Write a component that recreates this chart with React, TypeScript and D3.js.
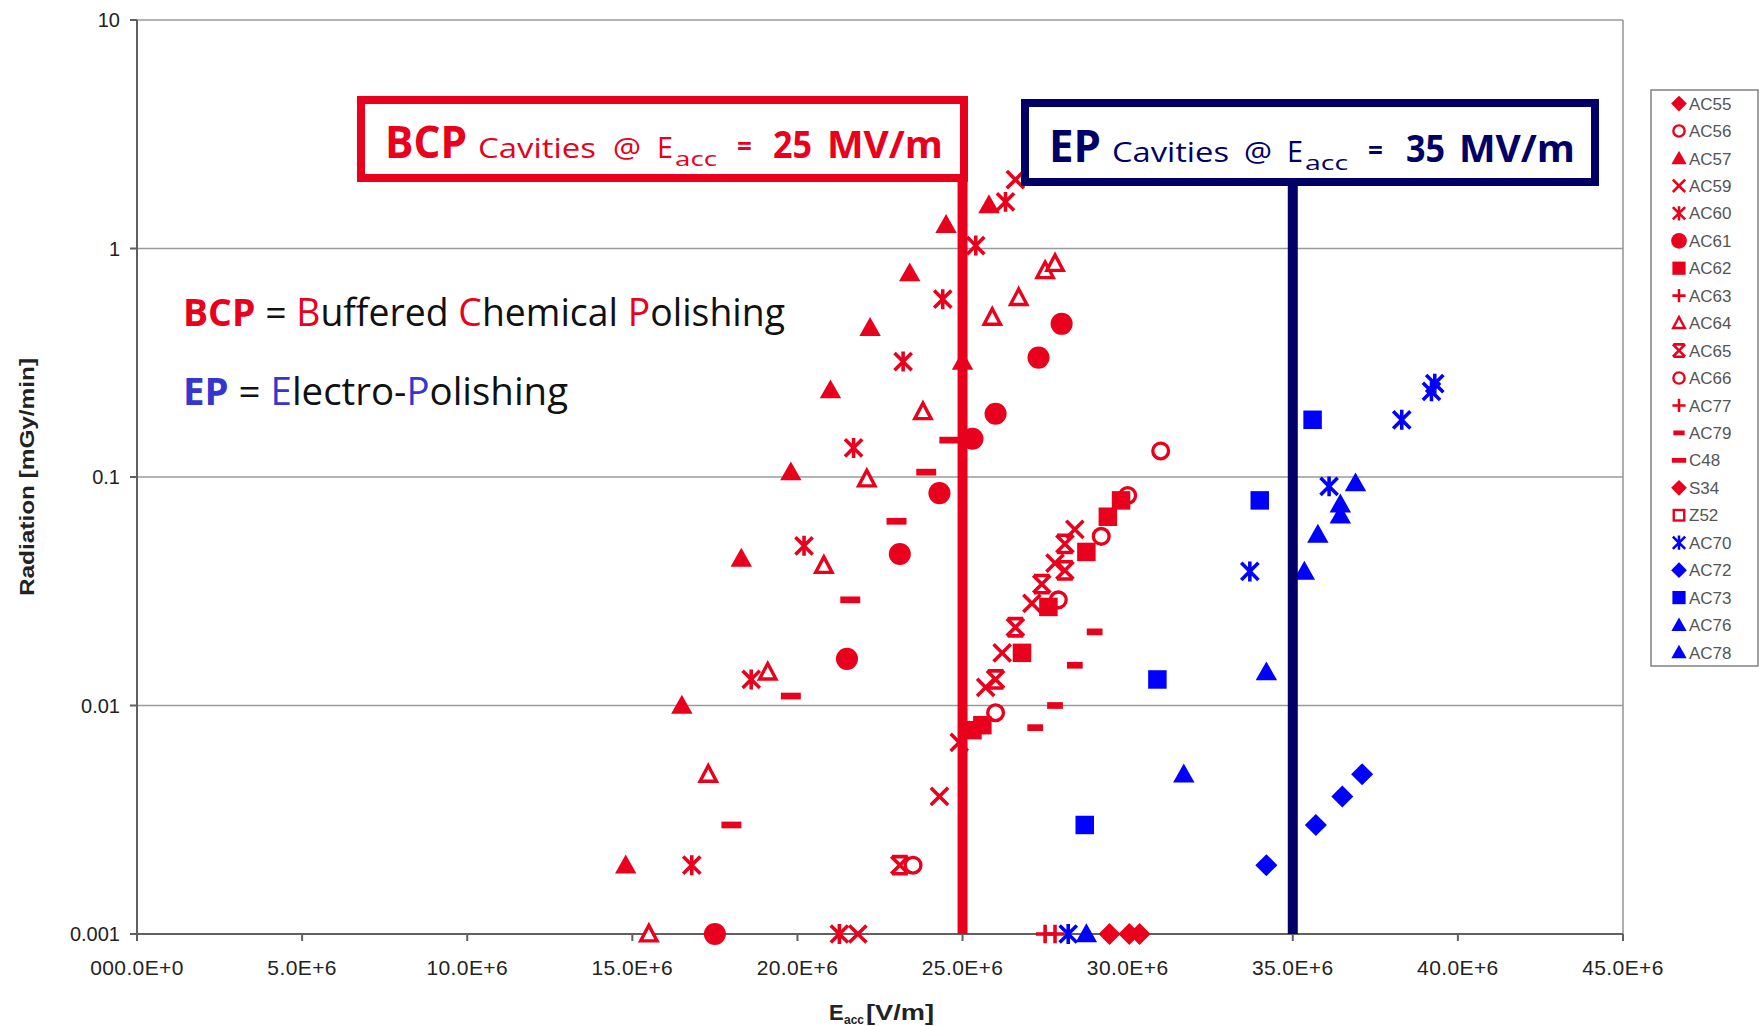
import React from "react";
import * as d3 from "d3";

const RED = "#e8001c";
const BLUE = "#0000ff";
const NAVY = "#000066";

// series: [E_acc (V/m), radiation (mGy/min)]
const AC55 = [[29.45e6, 0.001], [30.05e6, 0.001]];
const AC56 = [[23.5e6, 0.002], [26.0e6, 0.0093], [27.9e6, 0.029], [30.0e6, 0.083]];
const AC57 = [[14.8e6, 0.002], [16.5e6, 0.01], [18.3e6, 0.044], [19.8e6, 0.105], [21.0e6, 0.24], [22.2e6, 0.45], [23.4e6, 0.78], [24.5e6, 1.27], [25.0e6, 0.32], [25.8e6, 1.55]];
const AC59 = [[21.83e6, 0.001], [24.3e6, 0.004], [24.9e6, 0.0069], [25.7e6, 0.012], [26.2e6, 0.017], [27.1e6, 0.028], [27.8e6, 0.042], [28.4e6, 0.059], [26.6e6, 2.0]];
const AC60 = [[21.27e6, 0.001], [16.8e6, 0.002], [18.6e6, 0.013], [20.2e6, 0.05], [21.7e6, 0.134], [23.2e6, 0.32], [24.4e6, 0.6], [25.4e6, 1.03], [26.3e6, 1.6]];
const AC61 = [[17.5e6, 0.001], [21.5e6, 0.016], [23.1e6, 0.046], [24.3e6, 0.085], [25.3e6, 0.147], [26.0e6, 0.189], [27.3e6, 0.333], [28.0e6, 0.468]];
const AC62 = [[25.3e6, 0.0078], [25.6e6, 0.0082], [26.8e6, 0.017], [27.6e6, 0.027], [28.75e6, 0.047], [29.4e6, 0.067], [29.8e6, 0.079]];
const AC63 = [[27.5e6, 0.001]];
const AC64 = [[15.5e6, 0.001], [17.3e6, 0.005], [19.1e6, 0.014], [20.8e6, 0.041], [22.1e6, 0.098], [23.8e6, 0.193], [25.9e6, 0.5], [26.7e6, 0.61], [27.5e6, 0.8], [27.8e6, 0.86]];
const AC65 = [[23.1e6, 0.002], [26.0e6, 0.013], [26.6e6, 0.022], [27.4e6, 0.034], [28.1e6, 0.039], [28.1e6, 0.051]];
const AC66 = [[29.2e6, 0.055], [31.0e6, 0.13]];
const AC77 = [[27.8e6, 0.001]];
const AC79 = [[27.2e6, 0.008], [27.8e6, 0.01], [28.4e6, 0.015], [29.0e6, 0.021]];
const C48 = [[18.0e6, 0.003], [19.8e6, 0.011], [21.6e6, 0.029], [23.0e6, 0.064], [23.9e6, 0.105], [24.6e6, 0.145]];
const S34 = [[30.36e6, 0.001]];
const Z52: number[][] = [];
const AC70 = [[28.2e6, 0.001], [33.7e6, 0.0386], [36.1e6, 0.091], [38.3e6, 0.178], [39.2e6, 0.237], [39.3e6, 0.256]];
const AC72 = [[34.2e6, 0.002], [35.7e6, 0.003], [36.5e6, 0.004], [37.1e6, 0.005]];
const AC73 = [[28.7e6, 0.003], [30.9e6, 0.013], [34.0e6, 0.079], [35.6e6, 0.178]];
const AC76 = [[28.75e6, 0.001], [31.7e6, 0.005], [34.2e6, 0.014], [35.35e6, 0.0386]];
const AC78 = [[35.76e6, 0.056], [36.44e6, 0.068], [36.44e6, 0.076], [36.9e6, 0.094]];

const seriesNames = ["AC55", "AC56", "AC57", "AC59", "AC60", "AC61", "AC62", "AC63", "AC64", "AC65", "AC66", "AC77", "AC79", "C48", "S34", "Z52", "AC70", "AC72", "AC73", "AC76", "AC78"];
const seriesData = [AC55, AC56, AC57, AC59, AC60, AC61, AC62, AC63, AC64, AC65, AC66, AC77, AC79, C48, S34, Z52, AC70, AC72, AC73, AC76, AC78];
const seriesMarkers = ["diamond", "circleOpen", "triangle", "x", "asterisk", "circle", "square", "plus", "triangleOpen", "hourglass", "circleOpen", "plus", "dashShort", "dashLong", "diamond", "squareOpen", "asterisk", "diamond", "square", "triangle", "triangle"];
const seriesColors = [RED, RED, RED, RED, RED, RED, RED, RED, RED, RED, RED, RED, RED, RED, RED, RED, BLUE, BLUE, BLUE, BLUE, BLUE];

const xTicks = [0, 5e6, 10e6, 15e6, 20e6, 25e6, 30e6, 35e6, 40e6, 45e6];
const xTickLabels = ["000.0E+0", "5.0E+6", "10.0E+6", "15.0E+6", "20.0E+6", "25.0E+6", "30.0E+6", "35.0E+6", "40.0E+6", "45.0E+6"];
const yTicks = [0.001, 0.01, 0.1, 1, 10];
const yTickLabels = ["0.001", "0.01", "0.1", "1", "10"];

const W = 1764;
const H = 1026;
const X0 = 137, X1 = 1623, Y0 = 934, Y1 = 20;

function Marker({ type, color, s }: { type: string; color: string; s: number }) {
  const h = s / 2;
  const sw = s * 0.17;
  switch (type) {
    case "diamond":
      return <path d={`M0,${-h * 1.05}L${h * 1.05},0L0,${h * 1.05}L${-h * 1.05},0Z`} fill={color} />;
    case "circle":
      return <circle r={h * 1.05} fill={color} />;
    case "circleOpen":
      return <circle r={h * 0.75} fill="white" stroke={color} strokeWidth={s * 0.16} />;
    case "triangle":
      return <path d={`M0,${-h * 1.02}L${h * 1.02},${h * 0.78}L${-h * 1.02},${h * 0.78}Z`} fill={color} />;
    case "triangleOpen":
      return <path d={`M0,${-h * 0.82}L${h * 0.78},${h * 0.66}L${-h * 0.78},${h * 0.66}Z`} fill="white" stroke={color} strokeWidth={s * 0.16} strokeLinejoin="miter" />;
    case "square":
      return <rect x={-h * 0.88} y={-h * 0.88} width={s * 0.88} height={s * 0.88} fill={color} />;
    case "squareOpen":
      return <rect x={-h * 0.7} y={-h * 0.7} width={s * 0.7} height={s * 0.7} fill="white" stroke={color} strokeWidth={s * 0.16} />;
    case "x":
      return <path d={`M${-h * 0.82},${-h * 0.82}L${h * 0.82},${h * 0.82}M${h * 0.82},${-h * 0.82}L${-h * 0.82},${h * 0.82}`} stroke={color} strokeWidth={sw} fill="none" />;
    case "asterisk":
      return <path d={`M${-h * 0.82},${-h * 0.82}L${h * 0.82},${h * 0.82}M${h * 0.82},${-h * 0.82}L${-h * 0.82},${h * 0.82}M0,${-h * 0.95}L0,${h * 0.95}`} stroke={color} strokeWidth={sw} fill="none" />;
    case "hourglass":
      return <path d={`M${-h * 0.82},${-h * 0.82}L${h * 0.82},${h * 0.82}M${h * 0.82},${-h * 0.82}L${-h * 0.82},${h * 0.82}M${-h * 0.75},${-h * 0.82}L${h * 0.75},${-h * 0.82}M${-h * 0.75},${h * 0.82}L${h * 0.75},${h * 0.82}`} stroke={color} strokeWidth={sw} fill="none" />;
    case "plus":
      return <path d={`M${-h * 0.88},0L${h * 0.88},0M0,${-h * 0.88}L0,${h * 0.88}`} stroke={color} strokeWidth={sw} fill="none" />;
    case "dashShort":
      return <rect x={-h * 0.75} y={-s * 0.16} width={s * 0.75} height={s * 0.32} fill={color} />;
    case "dashLong":
      return <rect x={-h * 0.95} y={-s * 0.16} width={s * 0.95} height={s * 0.32} fill={color} />;
    default:
      return null;
  }
}

export default function App() {
  const x = d3.scaleLinear().domain([0, 45e6]).range([X0, X1]);
  const y = d3.scaleLog().domain([0.001, 10]).range([Y0, Y1]);
  const sans = "'Liberation Sans', Arial, sans-serif";
  const comic = "'Open Sans', 'Noto Sans', sans-serif";

  return (
    <svg width={W} height={H} style={{ position: "absolute", left: 0, top: 0, background: "white" }}>
      <rect x={0} y={0} width={W} height={H} fill="white" />
      {/* grid */}
      {yTicks.slice(1).map((t) => (
        <line key={"g" + t} x1={X0} x2={X1} y1={y(t)} y2={y(t)} stroke="#9a9a9a" strokeWidth={1.6} />
      ))}
      <line x1={X1} x2={X1} y1={Y1} y2={Y0} stroke="#9a9a9a" strokeWidth={1.6} />
      {/* axes */}
      <line x1={X0} x2={X0} y1={Y1} y2={Y0} stroke="#606060" strokeWidth={2} />
      <line x1={X0} x2={X1} y1={Y0} y2={Y0} stroke="#606060" strokeWidth={2} />
      {yTicks.map((t, i) => (
        <g key={"yt" + t}>
          <line x1={X0 - 7} x2={X0} y1={y(t)} y2={y(t)} stroke="#606060" strokeWidth={2} />
          <text x={X0 - 17} y={y(t)} dy="0.36em" textAnchor="end" fontFamily={sans} fontSize={20} fill="#222">{yTickLabels[i]}</text>
        </g>
      ))}
      {xTicks.map((t, i) => (
        <g key={"xt" + t}>
          <line x1={x(t)} x2={x(t)} y1={Y0} y2={Y0 + 7} stroke="#606060" strokeWidth={2} />
          <text x={x(t)} y={Y0 + 41} textAnchor="middle" fontFamily={sans} fontSize={21} fill="#222" letterSpacing={0.4}>{xTickLabels[i]}</text>
        </g>
      ))}
      {/* axis titles */}
      <text transform={`translate(34,477) rotate(-90)`} textAnchor="middle" fontFamily={sans} fontWeight="bold" fontSize={20} fill="#222" textLength={238} lengthAdjust="spacingAndGlyphs">Radiation [mGy/min]</text>
      <text x={829} y={1020} fontFamily={sans} fontWeight="bold" fontSize={22} fill="#222">E</text>
      <text x={844} y={1024} fontFamily={sans} fontWeight="bold" fontSize={13} fill="#222" textLength={20} lengthAdjust="spacingAndGlyphs">acc</text>
      <text x={866} y={1020} fontFamily={sans} fontWeight="bold" fontSize={22} fill="#222" textLength={68} lengthAdjust="spacingAndGlyphs">[V/m]</text>

      {/* data */}
      {seriesData.map((data, si) => (
        <g key={seriesNames[si]}>
          {data.map((d, i) => (
            <g key={i} transform={`translate(${x(d[0])},${y(d[1])})`}>
              <Marker type={seriesMarkers[si]} color={seriesColors[si]} s={21} />
            </g>
          ))}
        </g>
      ))}

      {/* vertical reference lines */}
      <line x1={x(25e6)} x2={x(25e6)} y1={144} y2={Y0} stroke={RED} strokeWidth={10} />
      <line x1={x(35e6)} x2={x(35e6)} y1={186} y2={Y0} stroke={NAVY} strokeWidth={10} />

      {/* BCP box */}
      <rect x={361} y={100} width={603} height={78} fill="white" stroke={RED} strokeWidth={8} />
      <g fill={RED} fontFamily={comic}>
        <text x={385} y={158} fontSize={44} fontWeight="bold" textLength={82} lengthAdjust="spacingAndGlyphs">BCP</text>
        <text x={478} y={158} fontSize={28} textLength={118} lengthAdjust="spacingAndGlyphs">Cavities</text>
        <text x={613} y={158} fontSize={28} textLength={28} lengthAdjust="spacingAndGlyphs">@</text>
        <text x={657} y={158} fontSize={30} textLength={16} lengthAdjust="spacingAndGlyphs">E</text>
        <text x={675} y={166} fontSize={20} textLength={42} lengthAdjust="spacingAndGlyphs">acc</text>
        <text x={737} y={156} fontSize={26} fontWeight="bold">=</text>
        <text x={773} y={158} fontSize={38} fontWeight="bold" textLength={39} lengthAdjust="spacingAndGlyphs">25</text>
        <text x={827} y={158} fontSize={38} fontWeight="bold" textLength={116} lengthAdjust="spacingAndGlyphs">MV/m</text>
      </g>

      {/* EP box */}
      <rect x={1025} y={103} width={570} height={79} fill="white" stroke={NAVY} strokeWidth={8} />
      <g fill={NAVY} fontFamily={comic}>
        <text x={1049} y={162} fontSize={44} fontWeight="bold" textLength={52} lengthAdjust="spacingAndGlyphs">EP</text>
        <text x={1112} y={162} fontSize={28} textLength={117} lengthAdjust="spacingAndGlyphs">Cavities</text>
        <text x={1244} y={162} fontSize={28} textLength={28} lengthAdjust="spacingAndGlyphs">@</text>
        <text x={1287} y={162} fontSize={30} textLength={16} lengthAdjust="spacingAndGlyphs">E</text>
        <text x={1305} y={170} fontSize={20} textLength={43} lengthAdjust="spacingAndGlyphs">acc</text>
        <text x={1368} y={160} fontSize={26} fontWeight="bold">=</text>
        <text x={1406} y={162} fontSize={38} fontWeight="bold" textLength={39} lengthAdjust="spacingAndGlyphs">35</text>
        <text x={1459} y={162} fontSize={38} fontWeight="bold" textLength={116} lengthAdjust="spacingAndGlyphs">MV/m</text>
      </g>

      {/* annotations */}
      <text x={183} y={326} fontFamily={comic} fontSize={38} fill="#111" textLength={602} lengthAdjust="spacingAndGlyphs">
        <tspan fill={RED} fontWeight="bold">BCP</tspan>
        <tspan> = </tspan>
        <tspan fill={RED}>B</tspan>
        <tspan>uffered </tspan>
        <tspan fill={RED}>C</tspan>
        <tspan>hemical </tspan>
        <tspan fill={RED}>P</tspan>
        <tspan>olishing</tspan>
      </text>
      <text x={183} y={405} fontFamily={comic} fontSize={38} fill="#111" textLength={385} lengthAdjust="spacingAndGlyphs">
        <tspan fill="#3535d0" fontWeight="bold">EP</tspan>
        <tspan> = </tspan>
        <tspan fill="#3535d0">E</tspan>
        <tspan>lectro-</tspan>
        <tspan fill="#3535d0">P</tspan>
        <tspan>olishing</tspan>
      </text>

      {/* legend */}
      <rect x={1651} y={90} width={107} height={576} fill="white" stroke="#808080" strokeWidth={1.5} />
      {seriesNames.map((n, i) => {
        const ly = 103.5 + i * 27.45;
        return (
          <g key={"lg" + n}>
            <g transform={`translate(1679,${ly})`}>
              <Marker type={seriesMarkers[i]} color={seriesColors[i]} s={15} />
            </g>
            <text x={1689} y={ly} dy="0.36em" fontFamily={sans} fontSize={17} fill="#555">{n}</text>
          </g>
        );
      })}
    </svg>
  );
}
